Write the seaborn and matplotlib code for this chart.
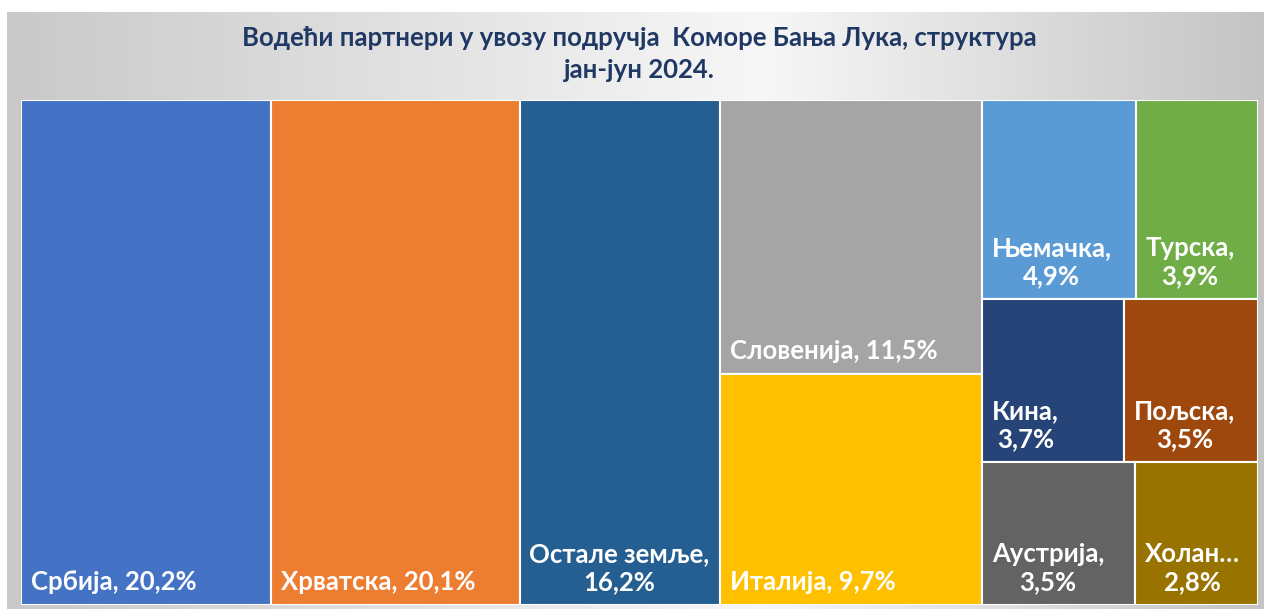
import numpy as np
import matplotlib.pyplot as plt
import seaborn as sns
from matplotlib.colors import LinearSegmentedColormap

countries = ["Србија", "Хрватска", "Остале земље", "Словенија", "Италија",
             "Њемачка", "Турска", "Кина", "Пољска", "Аустрија", "Холандија"]
shares = [20.2, 20.1, 16.2, 11.5, 9.7, 4.9, 3.9, 3.7, 3.5, 3.5, 2.8]
colors = ["#4472C4", "#ED7D31", "#255E91", "#A5A5A5", "#FFC000",
          "#5B9BD5", "#70AD47", "#264478", "#9E480E", "#636363", "#997300"]
title = ("Водећи партнери у увозу подручја  Коморе Бања Лука, структура\n"
         "јан-јун 2024.")

# tiles per strip, the way Excel broke up the squarified layout
STRIPS = [1, 1, 1, 2, 2, 2, 1, 1]
W, H = 1237.0, 505.0
FONT = ["Lato", "Open Sans", "DejaVu Sans"]
WRAP_PAD = 24  # px a one-line label must leave free before it wraps
CUT_PAD = 16   # px a wrapped label must leave free before names get cut


def layout(values, strips, w, h):
    total = sum(values)
    areas = [v / total * w * h for v in values]
    x, y = 0.0, 0.0
    rects = []
    i = 0
    for n in strips:
        row = areas[i:i + n]
        s = sum(row)
        if w >= h:
            # column on the left side of the free box
            cw = s / h
            yy = y
            for a in row:
                rects.append((x, yy, cw, a / cw))
                yy += a / cw
            x += cw
            w -= cw
        else:
            # row on top of the free box
            rh = s / w
            xx = x
            for a in row:
                rects.append((xx, y, a / rh, rh))
                xx += a / rh
            y += rh
            h -= rh
        i += n
    return rects


sns.set_theme(style="white")
plt.rcParams["font.family"] = FONT

fig = plt.figure(figsize=(12.64, 6.09), dpi=100)

# grey-white-grey backdrop of the chart area
bg = fig.add_axes([7 / 1264, 0, 1 - 7 / 1264, 597 / 609])
cmap = LinearSegmentedColormap.from_list(
    "bg", [(0, "#c9c9c9"), (0.6, "#f7f7f7"), (1, "#c4c4c4")])
bg.imshow(np.linspace(0, 1, 256)[None, :], aspect="auto", cmap=cmap,
          extent=[0, 1, 0, 1])
bg.axis("off")

ax = fig.add_axes([21 / 1264, 4 / 609, W / 1264, H / 609])
ax.set_xlim(0, W)
ax.set_ylim(H, 0)
ax.axis("off")

rects = layout(shares, STRIPS, W, H)
labels = []
for (x0, y0, w, h), name, v, c in zip(rects, countries, shares, colors):
    ax.bar(x0, h, width=w, bottom=y0, align="edge", color=c,
           edgecolor="white", linewidth=1.5)
    t = ax.annotate(f"{name}, {v:.1f}%".replace(".", ","), xy=(x0, y0 + h),
                    xytext=(7, 8), textcoords="offset points",
                    ha="left", va="bottom", multialignment="center",
                    color="white", fontsize=18.5, fontweight="bold")
    labels.append((t, name, v, w))

# wrap the labels that do not fit on one line, cut names that still don't
fig.canvas.draw()
r = fig.canvas.get_renderer()
px = ax.transData.transform((1, 0))[0] - ax.transData.transform((0, 0))[0]
for t, name, v, w in labels:
    if t.get_window_extent(r).width <= w * px - WRAP_PAD:
        continue
    pct = f"{v:.1f}%".replace(".", ",")
    t.set_linespacing(1.2)
    t.set_text(f"{name},\n{pct}")
    cut = len(name)
    while t.get_window_extent(r).width > w * px - CUT_PAD and cut > 1:
        cut -= 1
        t.set_text(f"{name[:cut]}…\n{pct}")

fig.text(639 / 1264, 1 - 54 / 609, title, ha="center", va="center",
         fontsize=18.5, fontweight="bold", color="#1F3864", linespacing=1.4)

fig.savefig("out.png", dpi=100)
